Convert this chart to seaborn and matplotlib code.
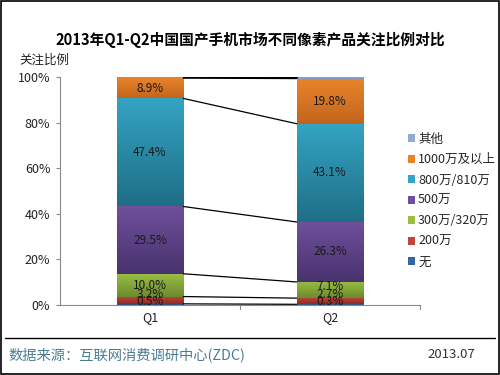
import numpy as np
import pandas as pd
import matplotlib
matplotlib.use("Agg")
import matplotlib.pyplot as plt
import matplotlib.colors as mcolors
from matplotlib.patches import Patch
import seaborn as sns

# ---------------- data ----------------
quarters = ["Q1", "Q2"]
series_names = ["无", "200万", "300万/320万", "500万", "800万/810万", "1000万及以上", "其他"]
v_none = [0.5, 0.3]
v_200 = [3.2, 2.7]
v_300 = [10.0, 7.1]
v_500 = [29.5, 26.3]
v_800 = [47.4, 43.1]
v_1000 = [8.9, 19.8]
v_other = [0.5, 0.7]
yticks = [0, 20, 40, 60, 80, 100]

series_values = [v_none, v_200, v_300, v_500, v_800, v_1000, v_other]
colors_top = ["#3566A0", "#C2443B", "#98BC44", "#6F4F9B", "#34A4C3", "#E9842B", "#8FA9D0"]
colors_bot = ["#24487A", "#8E2B26", "#6D8A2D", "#48336E", "#1F6E86", "#C2651C", "#7E96BC"]
show_label = [True, True, True, True, True, True, False]

sns.set_theme(style="white")
plt.rcParams['font.family'] = ['Noto Sans CJK SC', 'DejaVu Sans']

fig = plt.figure(figsize=(5, 3.75), dpi=100)
ax = fig.add_axes([0.12, 0.1867, 0.72, 0.608])

bar_w = 0.37
cum = np.zeros(len(quarters))
tops = []
label_pos = {q: [] for q in range(len(quarters))}
for name, vals, ct, cb, sl in zip(series_names, series_values, colors_top, colors_bot, show_label):
    vals = np.array(vals, dtype=float)
    n_before = len(ax.patches)
    sns.barplot(x=quarters, y=vals, bottom=cum, color=ct, width=bar_w,
                ax=ax, linewidth=0, saturation=1)
    new_patches = ax.patches[n_before:]
    # vertical gradient fill (lighter top, darker bottom)
    cmap = mcolors.LinearSegmentedColormap.from_list("g", [cb, ct])
    grad = np.linspace(0, 1, 64).reshape(-1, 1)
    for p in new_patches:
        x0, y0 = p.get_x(), p.get_y()
        w, h = p.get_width(), p.get_height()
        if h <= 0:
            continue
        im = ax.imshow(grad, cmap=cmap, origin="lower", aspect="auto",
                       extent=[x0, x0 + w, y0, y0 + h], zorder=p.get_zorder() + 0.1)
        im.set_clip_path(p)
    if sl:
        for i in range(len(quarters)):
            label_pos[i].append((cum[i] + vals[i] / 2, vals[i]))
    cum = cum + vals
    tops.append(cum.copy())

if ax.get_legend() is not None:
    ax.get_legend().remove()

# data labels, nudged upward to avoid overlap for small segments
for i in range(len(quarters)):
    prev = None
    for c, v in label_pos[i]:
        y = max(c, 1.5) if prev is None else max(c, prev + 3.3)
        prev = y
        ax.text(i, y, f"{v:.1f}%", ha="center", va="center", fontsize=8.5,
                color="#1a1a1a", zorder=10)

# connector lines between bar tops
for t in tops:
    ax.plot([0 + bar_w / 2, 1 - bar_w / 2], [t[0], t[1]], color="black", lw=0.9, zorder=5)

ax.set_xlim(-0.5, 1.5)
ax.set_ylim(0, 100)
ax.set_yticks(yticks)
ax.set_yticklabels([f"{t}%" for t in yticks], fontsize=9, color="#222222")
ax.set_xticks([0, 1])
ax.set_xticklabels(quarters, fontsize=9, color="#222222")
ax.tick_params(axis="x", length=0, pad=4)
ax.tick_params(axis="y", length=3, width=0.8, color="#888888", direction="out", left=True, pad=4)
for xb in [0.5, 1.5]:
    ax.plot([xb, xb], [0, -1.6], color="#888888", lw=0.8, clip_on=False)
for s in ["top", "right"]:
    ax.spines[s].set_visible(False)
for s in ["left", "bottom"]:
    ax.spines[s].set_color("#888888")
    ax.spines[s].set_linewidth(0.8)
ax.set_xlabel("")
ax.set_ylabel("")
ax.grid(False)

# legend (reverse order, small squares)
hmap = {n: c for n, c in zip(series_names, colors_top)}
leg_handles = [Patch(facecolor=hmap[n], edgecolor="none") for n in reversed(series_names)]
fig.legend(leg_handles, list(reversed(series_names)), loc="upper left",
           bbox_to_anchor=(0.805, 0.66), frameon=False, fontsize=9,
           handlelength=0.6, handleheight=0.6, handletextpad=0.25,
           labelspacing=0.6, borderaxespad=0)

# titles and texts
fig.text(0.5, 0.893, "2013年Q1-Q2中国国产手机市场不同像素产品关注比例对比",
         ha="center", va="center", fontsize=10.6, fontweight="bold", color="black")
fig.text(0.038, 0.84, "关注比例", ha="left", va="center", fontsize=9, color="#222222")

# footer
fig.add_artist(plt.Line2D([0.01, 0.99], [1 - 338 / 375, 1 - 338 / 375], color="black", lw=1.0))
fig.text(0.016, 1 - 355 / 375, "数据来源：互联网消费调研中心(ZDC)", ha="left", va="center",
         fontsize=10.3, color="#4A7D94")
fig.text(0.95, 1 - 355 / 375, "2013.07", ha="right", va="center", fontsize=9.5, color="#333333")

# outer border
fig.add_artist(plt.Rectangle((0.002, 0.003), 0.995, 0.994, fill=False, edgecolor="black",
                             lw=1.2, transform=fig.transFigure))

fig.savefig("out.png", dpi=100)
